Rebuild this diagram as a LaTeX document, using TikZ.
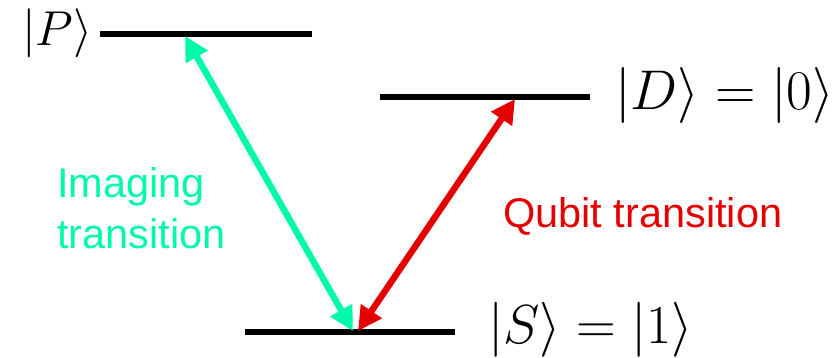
\RequirePackage{fix-cm}
\documentclass[tikz,border=0pt]{standalone}
\usepackage{fontspec}
\newfontfamily\arialf{Liberation Sans}
\usetikzlibrary{arrows.meta}
\definecolor{imgcol}{RGB}{0,250,170}
\definecolor{qubcol}{RGB}{228,0,0}
\begin{document}
\begin{tikzpicture}[x=1pt,y=-1pt,
  level/.style={line width=6pt},
  trans/.style={line width=6.5pt,{Triangle[length=24pt,width=24pt]}-{Triangle[length=24pt,width=24pt]}},
  ketlbl/.style={inner sep=0pt,anchor=base west},
  txtlbl/.style={inner sep=0pt,anchor=base west,font=\arialf\fontsize{41.5}{48}\selectfont}]
\useasboundingbox (0,0) rectangle (839,358);
% levels
\coordinate (P1) at (100,34.5); \coordinate (P2) at (312,34.5);
\coordinate (D1) at (380,97);   \coordinate (D2) at (590,97);
\coordinate (S1) at (245,332);  \coordinate (S2) at (455,332);
\draw[level] (P1) -- (P2);
\draw[level] (D1) -- (D2);
\draw[level] (S1) -- (S2);
% labels
\node[ketlbl,font=\fontsize{49}{58}\selectfont] (lP) at (22,46) {$|P\rangle$};
\node[ketlbl,font=\fontsize{56}{66}\selectfont] (lD) at (615,110) {$|D\rangle = |0\rangle$};
\node[ketlbl,font=\fontsize{55}{65}\selectfont] (lS) at (488,344) {$|S\rangle = |1\rangle$};
\node[txtlbl,text=imgcol] (img1) at (57,198) {Imaging};
\node[txtlbl,text=imgcol] (img2) at (57,249) {transition};
\node[txtlbl,text=qubcol] (qub) at (503,228) {Qubit transition};
% transitions
\coordinate (cT) at (185,36); \coordinate (cB) at (353,331);
\coordinate (rT) at (515,99); \coordinate (rB) at (358,331);
\draw[trans,imgcol] (cT) -- (cB);
\draw[trans,qubcol] (rT) -- (rB);
\end{tikzpicture}
\end{document}
